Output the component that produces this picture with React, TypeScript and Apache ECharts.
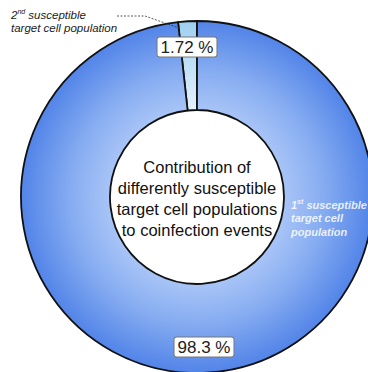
import React, { useEffect, useRef } from "react";
import * as echarts from "echarts";

const categories = ["2nd susceptible target cell population", "1st susceptible target cell population"];
const shares = [1.72, 98.28];
const valueLabels = ["1.72 %", "98.3 %"];
const centerLines = [
  "Contribution of",
  "differently susceptible",
  "target cell populations",
  "to coinfection events",
];

const CX = 197;
const CY = 197;
const R_OUT = 176;
const R_IN = 87;

export default function App() {
  const ref = useRef<HTMLDivElement>(null);
  useEffect(() => {
    if (!ref.current) return;
    const chart = echarts.init(ref.current, undefined, { renderer: "svg" });
    const mainGrad = new echarts.graphic.RadialGradient(CX, CY, R_OUT, [
      { offset: 0, color: "#bcd3f9" },
      { offset: 0.49, color: "#a9c5f7" },
      { offset: 0.72, color: "#86acf1" },
      { offset: 1, color: "#5284e8" },
    ], true);
    const smallGrad = new echarts.graphic.RadialGradient(CX, CY, R_OUT, [
      { offset: 0, color: "#f0f8fd" },
      { offset: 0.49, color: "#e4f2fc" },
      { offset: 1, color: "#9dcff1" },
    ], true);
    const font = "'Liberation Sans', Arial, sans-serif";
    const boxStyle = {
      font: `17px ${font}`,
      fill: "#222222",
      align: "center",
      verticalAlign: "middle",
      backgroundColor: "#ffffff",
      borderColor: "#777777",
      borderWidth: 1,
      borderRadius: 2,
      padding: [2, 3, 0, 3],
    };
    chart.setOption({
      animation: false,
      backgroundColor: "#ffffff",
      series: [
        {
          type: "pie",
          center: [CX, CY],
          radius: [R_IN, R_OUT],
          startAngle: 90,
          clockwise: false,
          silent: true,
          label: { show: false },
          labelLine: { show: false },
          itemStyle: { borderColor: "#111111", borderWidth: 1.8 },
          data: [
            { name: categories[0], value: shares[0], itemStyle: { color: smallGrad } },
            { name: categories[1], value: shares[1], itemStyle: { color: mainGrad } },
          ],
        },
      ],
      graphic: [
        {
          type: "text",
          z: 100,
          x: CX,
          y: 156,
          style: {
            text: centerLines.join("\n"),
            fill: "#111111",
            font: `16.5px ${font}`,
            lineHeight: 21,
            align: "center",
          },
        },
        {
          type: "polyline",
          z: 100,
          shape: { points: [[117, 16], [145, 16], [179, 28]] },
          style: { stroke: "#333333", lineWidth: 0.8, lineDash: [2, 1.5], fill: null },
        },
        {
          type: "text",
          z: 100,
          x: 11,
          y: 8,
          style: {
            text: "{t|2}{s|nd}{t| susceptible}\n{t|target cell population}",
            rich: {
              t: { font: `italic 11.5px ${font}`, fill: "#222222", lineHeight: 13.5 },
              s: { font: `italic 7px ${font}`, fill: "#222222", verticalAlign: "top", lineHeight: 13.5 },
            },
          },
        },
        {
          type: "text",
          z: 100,
          x: 291,
          y: 198,
          style: {
            text: "{t|1}{s|st}{t| susceptible}\n{t|target cell}\n{t|population}",
            rich: {
              t: { font: `italic bold 11px ${font}`, fill: "rgba(255,255,255,0.85)", lineHeight: 13.5 },
              s: { font: `italic bold 7px ${font}`, fill: "rgba(255,255,255,0.85)", verticalAlign: "top", lineHeight: 13.5 },
            },
          },
        },
        {
          type: "text",
          z: 100,
          x: 187,
          y: 47,
          style: { ...boxStyle, text: valueLabels[0] },
        },
        {
          type: "text",
          z: 100,
          x: 204,
          y: 347,
          style: { ...boxStyle, text: valueLabels[1] },
        },
      ],
    });
    return () => chart.dispose();
  }, []);
  return (
    <div
      ref={ref}
      style={{ position: "fixed", left: 0, top: 0, width: 368, height: 372 }}
    />
  );
}
